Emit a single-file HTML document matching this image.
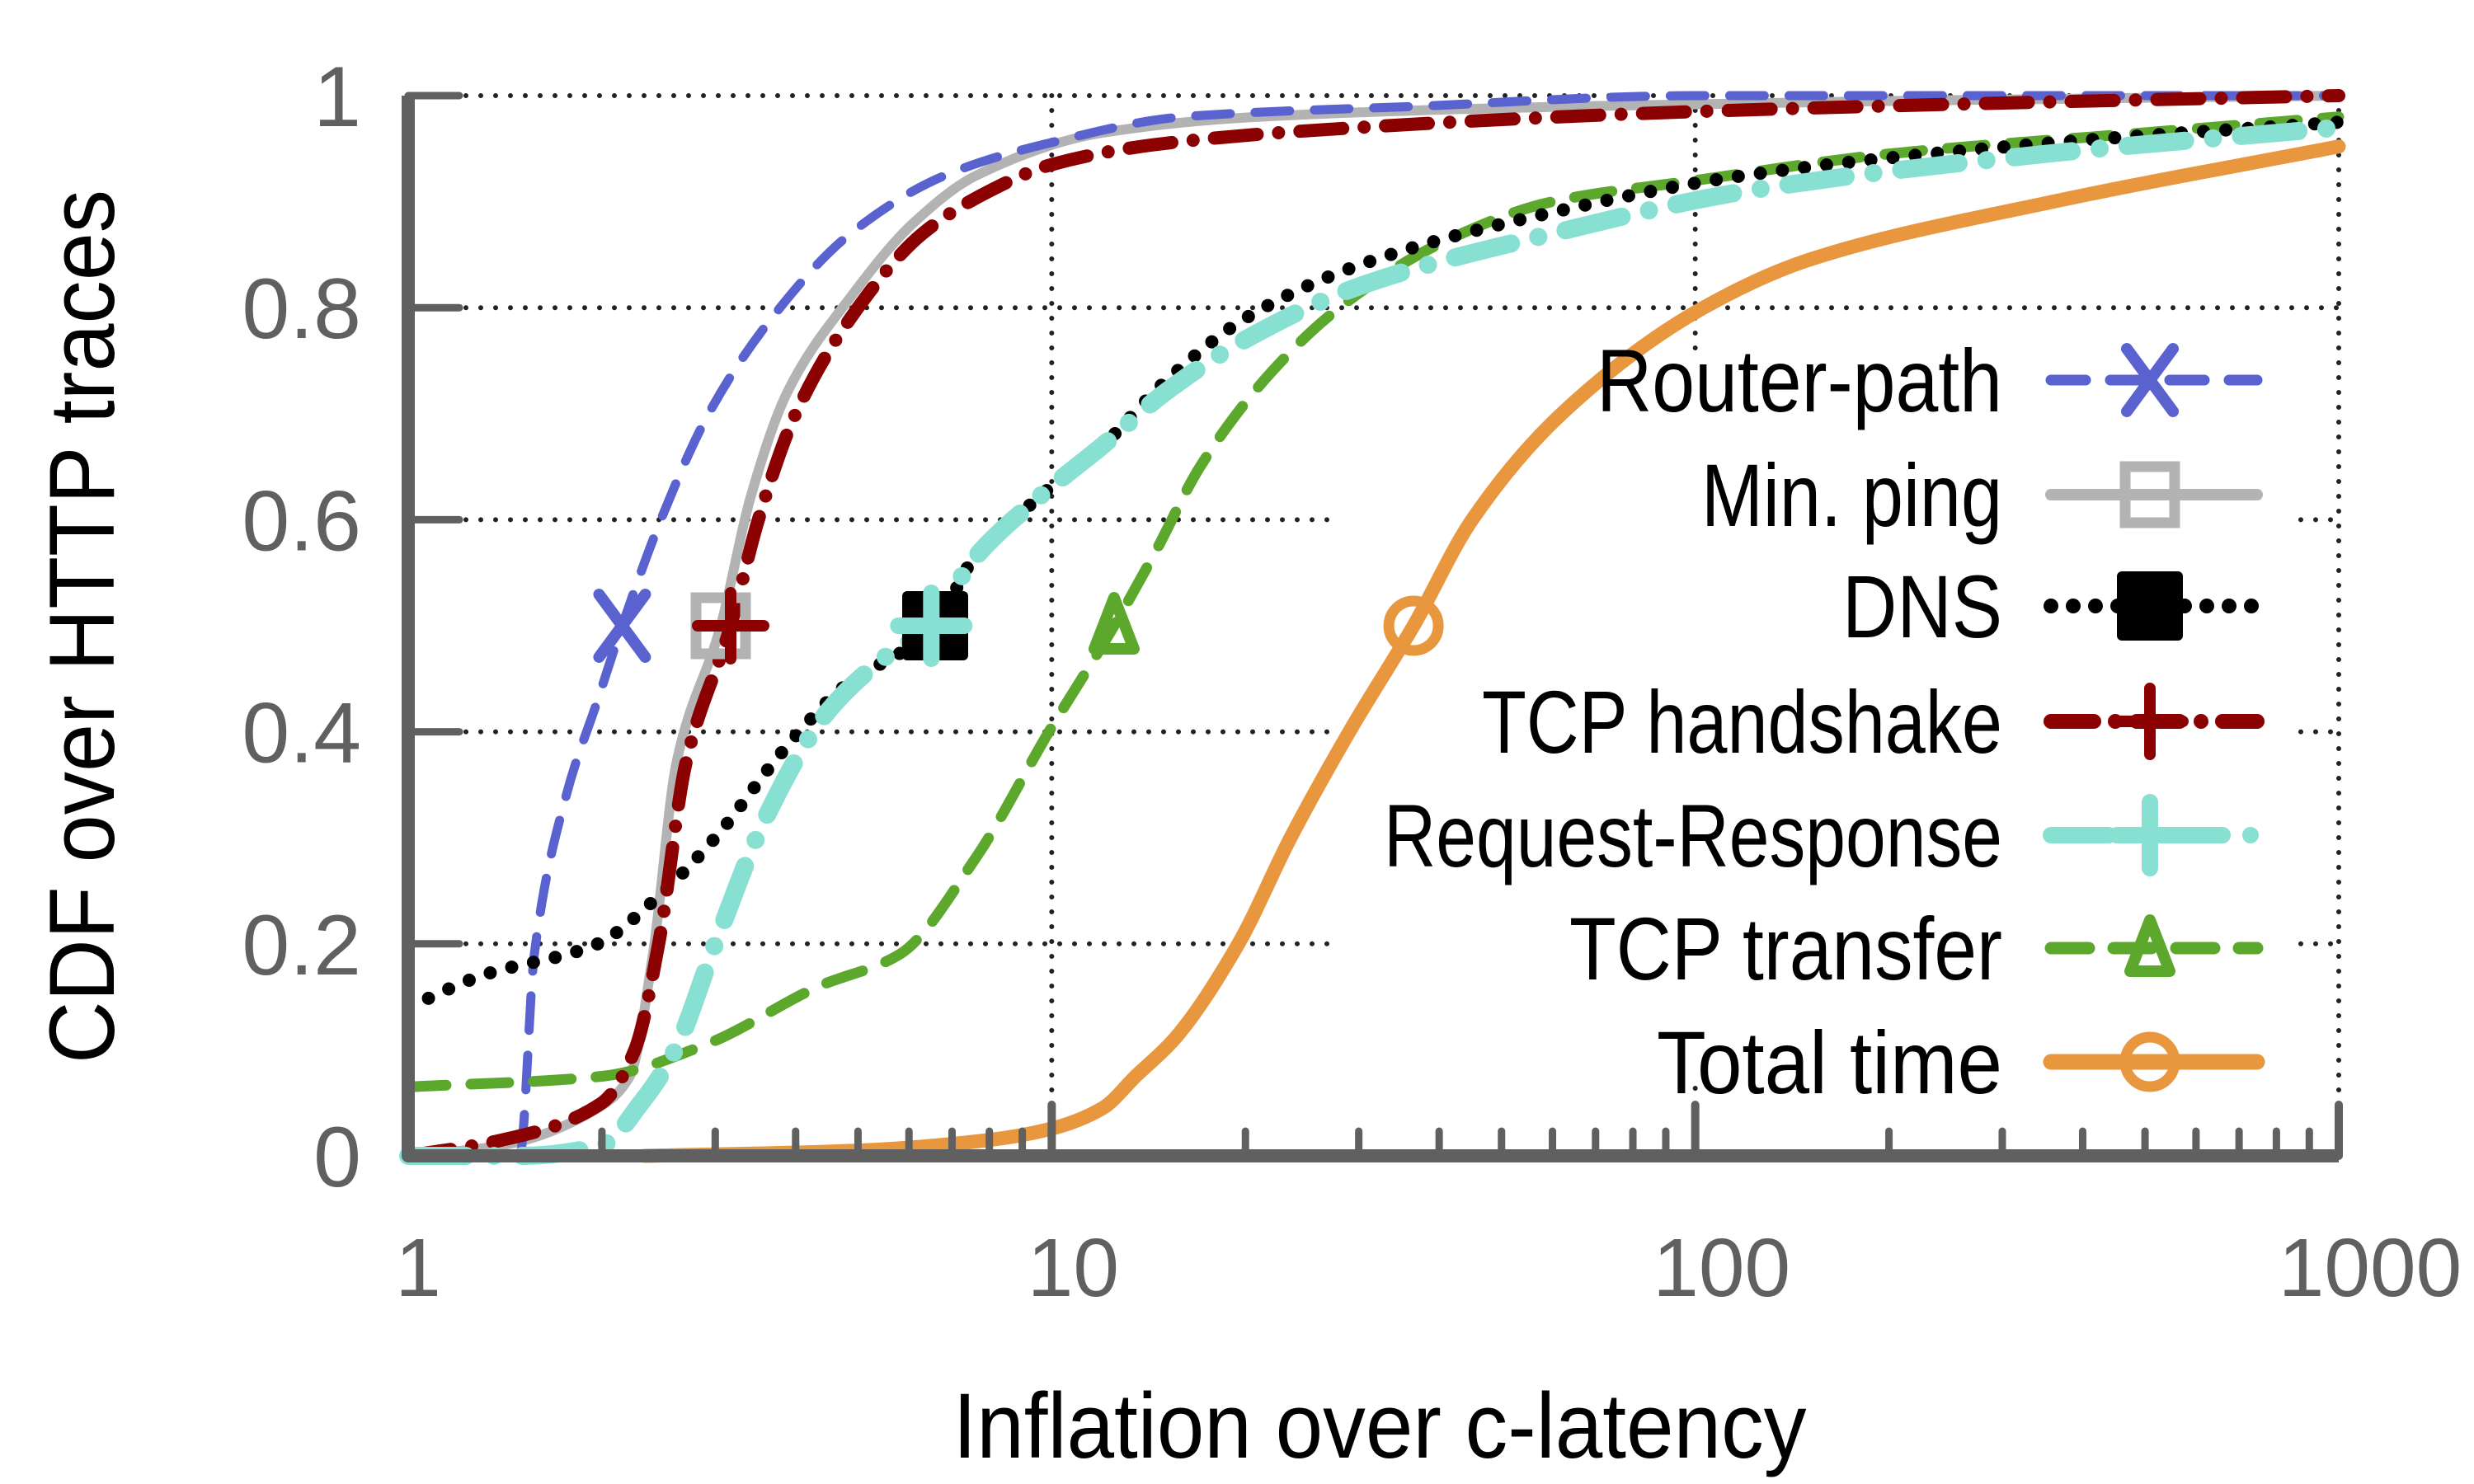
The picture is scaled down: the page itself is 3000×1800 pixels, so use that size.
<!DOCTYPE html>
<html><head><meta charset="utf-8">
<style>
html,body{margin:0;padding:0;background:#fff;}
svg{display:block;}
text{font-family:"Liberation Sans",sans-serif;}
</style></head>
<body>
<svg id="chart" width="3000" height="1800" viewBox="0 0 3000 1800" xmlns="http://www.w3.org/2000/svg">
<g id="grid"></g>
<g id="series"></g>
<g id="axes"></g>
<g id="legend"></g>
<text x="1673" y="1768" font-size="112" text-anchor="middle" textLength="1035" lengthAdjust="spacingAndGlyphs">Inflation over c-latency</text>
<text transform="translate(138,760) rotate(-90)" font-size="112" text-anchor="middle" textLength="1060" lengthAdjust="spacingAndGlyphs">CDF over HTTP traces</text>
</svg>
<script>
const xTickValues=[1,10,100,1000];
const xTickLabels=["1","10","100","1000"];
const yTickValues=[0,0.2,0.4,0.6,0.8,1];
const yTickLabels=["0","0.2","0.4","0.6","0.8","1"];

const routerX=[1,1.49,1.57,1.76,1.97,2.15,2.47,2.93,3.67,4.87,6.84,9.87,16,37,100,1000];
const routerY=[0,0,0.19,0.34,0.43,0.5,0.6,0.7,0.79,0.87,0.925,0.955,0.98,0.99,1,1];
const pingX=[1,1.4,1.97,2.21,2.4,2.61,3.06,3.4,3.88,4.87,6.1,7.65,12,21,66,203,1000];
const pingY=[0,0.01,0.045,0.075,0.19,0.37,0.5,0.62,0.72,0.81,0.88,0.925,0.965,0.98,0.99,0.995,1];
const dnsX=[1,1.3,1.97,2.4,3.0,3.8,4.7,6.59,7.5,9.5,12,15,20,30,60,120,350,1000];
const dnsY=[0.14,0.17,0.2,0.24,0.3,0.38,0.44,0.5,0.56,0.62,0.67,0.73,0.79,0.84,0.89,0.925,0.955,0.975];
const tcpX=[1,1.4,2.0,2.25,2.45,2.7,3.17,3.5,4.0,5.0,6.3,8,10,15,30,100,300,1000];
const tcpY=[0,0.015,0.05,0.1,0.2,0.37,0.5,0.6,0.7,0.8,0.87,0.91,0.935,0.955,0.97,0.985,0.993,1];
const rrX=[1,1.5,2.0,2.3,2.6,3.0,3.6,4.5,5.5,6.5,7.5,9.5,12,15,20,30,60,120,350,1000];
const rrY=[0,0,0.01,0.05,0.1,0.2,0.32,0.42,0.47,0.5,0.56,0.62,0.67,0.72,0.77,0.82,0.87,0.91,0.945,0.97];
const xferX=[1,2,2.9,4.35,5.8,7.6,9.9,12.5,14.5,17,22,28,40,60,100,200,500,1000];
const xferY=[0.065,0.075,0.105,0.16,0.19,0.28,0.4,0.5,0.57,0.65,0.74,0.8,0.86,0.9,0.92,0.945,0.965,0.98];
const totalX=[2.33,5,8,9.9,12,13.5,15.5,19.5,23.5,29,36.5,45,62,103,150,360,1000];
const totalY=[0,0.005,0.015,0.025,0.045,0.075,0.11,0.2,0.3,0.4,0.5,0.6,0.7,0.8,0.845,0.9,0.952];

const markerX=[2.15,3.06,6.59,3.17,6.5,12.5,36.5];
const markerY=[0.5,0.5,0.5,0.5,0.5,0.5,0.5];
const seriesNames=["Router-path","Min. ping","DNS","TCP handshake","Request-Response","TCP transfer","Total time"];

const NS="http://www.w3.org/2000/svg";
const X0=495,X1=2836,Y0=1402,Y1=116;
function xs(v){return X0+(Math.log10(v)-0)/3*(X1-X0);}
function ys(v){return Y0-v*(Y0-Y1);}
function mk(tag,attrs,parent){const e=document.createElementNS(NS,tag);for(const k in attrs)e.setAttribute(k,attrs[k]);parent.appendChild(e);return e;}
const grid=document.getElementById('grid'),axes=document.getElementById('axes'),ser=document.getElementById('series'),leg=document.getElementById('legend');
const gridStyle={stroke:"#222","stroke-width":6,"stroke-dasharray":"0 18","stroke-linecap":"round",fill:"none"};
function gline(x1,y1,x2,y2,name){const l=mk('line',Object.assign({x1,y1,x2,y2},gridStyle),grid);

}
yTickValues.forEach((v,i)=>{ if(v===0)return; const y=ys(v);
 if(v>=0.8){gline(X0+70,y,X1,y,'h-grid-'+yTickLabels[i]);}
 else {gline(X0+70,y,1620,y,'h-grid-'+yTickLabels[i]); gline(2790,y,X1,y,'h-grid-right-'+yTickLabels[i]);}
});
gline(xs(10),Y1,xs(10),Y0-70,'v-grid-10');
gline(xs(100),Y1,xs(100),440,'v-grid-100');
gline(xs(100),1320,xs(100),Y0-70,'v-grid-100-low');
gline(X1,Y1,X1,Y0-70,'v-grid-1000');

// monotone cubic (Fritsch-Carlson) in pixel space
function smooth(pts){const n=pts.length;const dx=[],dy=[],m=[];
 for(let i=0;i<n-1;i++){dx.push(pts[i+1][0]-pts[i][0]);dy.push(pts[i+1][1]-pts[i][1]);m.push(dy[i]/dx[i]);}
 const t=[m[0]];
 for(let i=1;i<n-1;i++){if(m[i-1]*m[i]<=0)t.push(0);else{const w1=2*dx[i]+dx[i-1],w2=dx[i]+2*dx[i-1];t.push((w1+w2)/(w1/m[i-1]+w2/m[i]));}}
 t.push(m[n-2]);
 let d="M"+pts[0][0].toFixed(1)+","+pts[0][1].toFixed(1);
 for(let i=0;i<n-1;i++){const h=dx[i]/3;
 d+=" C"+(pts[i][0]+h).toFixed(1)+","+(pts[i][1]+h*t[i]).toFixed(1)+" "+(pts[i+1][0]-h).toFixed(1)+","+(pts[i+1][1]-h*t[i+1]).toFixed(1)+" "+pts[i+1][0].toFixed(1)+","+pts[i+1][1].toFixed(1);}
 return d;}
const styles=[
 {c:"#5a62cf",w:11,da:"42 30"},
 {c:"#b3b3b3",w:12,da:""},
 {c:"#000",w:16,da:"0 27"},
 {c:"#8b0000",w:16,da:"52 26 0 26"},
 {c:"#88e0d2",w:22,da:"70 34 0 34"},
 {c:"#5ca82c",w:13,da:"46 30"},
 {c:"#e8973e",w:17,da:""}];
const dataX=[routerX,pingX,dnsX,tcpX,rrX,xferX,totalX],dataY=[routerY,pingY,dnsY,tcpY,rrY,xferY,totalY];
const order=[1,0,6,5,2,3,4];
function marker(i,cx,cy,parent){const s=styles[i];let e;
 if(i===0){e=mk('path',{d:`M${cx-28},${cy-38}L${cx+28},${cy+38}M${cx+28},${cy-38}L${cx-28},${cy+38}`,stroke:s.c,"stroke-width":14,"stroke-linecap":"round",fill:"none"},parent);}
 else if(i===1){e=mk('rect',{x:cx-30,y:cy-34,width:60,height:68,fill:"none",stroke:s.c,"stroke-width":13},parent);}
 else if(i===2){e=mk('rect',{x:cx-40,y:cy-42,width:80,height:84,rx:6,fill:"#000"},parent);}
 else if(i===3||i===4){e=mk('path',{d:`M${cx-40},${cy}L${cx+40},${cy}M${cx},${cy-40}L${cx},${cy+40}`,stroke:s.c,"stroke-width":i===3?14:20,"stroke-linecap":"round",fill:"none"},parent);}
 else if(i===5){e=mk('path',{d:`M${cx},${cy-34}L${cx+24},${cy+28}L${cx-24},${cy+28}Z`,stroke:s.c,"stroke-width":14,"stroke-linejoin":"round",fill:"none"},parent);}
 else {e=mk('circle',{cx,cy,r:30,stroke:s.c,"stroke-width":13,fill:"none"},parent);}
 return e;}
order.forEach(i=>{const s=styles[i];const pts=dataX[i].map((v,k)=>[xs(v),ys(dataY[i][k])]);
 const p=mk('path',{d:smooth(pts),stroke:s.c,"stroke-width":s.w,fill:"none","stroke-linecap":"round","stroke-linejoin":"round"},ser);
 if(s.da)p.setAttribute('stroke-dasharray',s.da);
 
 
});
order.forEach(i=>{const m=marker(i,xs(markerX[i]),ys(markerY[i]),ser);
 
 });

const ax=mk('path',{d:`M${X0},${Y1}L${X0},${Y0}L${X1},${Y0}`,stroke:"#606060","stroke-width":16,fill:"none","stroke-linejoin":"round"},axes);


yTickValues.forEach((v,i)=>{const y=ys(v);
 if(v>0){const t=mk('line',{x1:X0,y1:y,x2:X0+62,y2:y,stroke:"#606060","stroke-width":9,"stroke-linecap":"round"},axes);
 
 }
 const tx=mk('text',{x:438,y:y+37,"font-size":104,fill:"#606060","text-anchor":"end"},axes);tx.textContent=yTickLabels[i];
 
 });
for(let d=0;d<3;d++){for(let m=2;m<=9;m++){const x=xs(m*Math.pow(10,d));
 const t=mk('line',{x1:x,y1:Y0,x2:x,y2:Y0-30,stroke:"#606060","stroke-width":9,"stroke-linecap":"round"},axes);
 
 }}
xTickValues.forEach((v,i)=>{const x=xs(v);
 const t=mk('line',{x1:x,y1:Y0,x2:x,y2:Y0-62,stroke:"#606060","stroke-width":10,"stroke-linecap":"round"},axes);
 
 
 const tx=mk('text',{x:x+(i===0?12:20+i*6),y:1572,"font-size":100,fill:"#606060","text-anchor":"middle"},axes);tx.textContent=xTickLabels[i];
 
 });

const legY=[461,600,735,875,1013,1150,1288];
const legW=[492,365,194,631,750,525,419];
legY.forEach((y,i)=>{const s=styles[i];
 const g=mk('g',{},leg);
 
 
 const t=mk('text',{x:2428,y:y+38,"font-size":108,fill:"#000","text-anchor":"end",textLength:legW[i],lengthAdjust:"spacingAndGlyphs"},g);t.textContent=seriesNames[i];
 const l=mk('line',{x1:2487,y1:y,x2:2737,y2:y,stroke:s.c,"stroke-width":i===4?20:s.w+2,"stroke-linecap":"round"},g);
 if(s.da)l.setAttribute('stroke-dasharray',s.da);
 marker(i,2607,y,g);
});
</script>
</body></html>
